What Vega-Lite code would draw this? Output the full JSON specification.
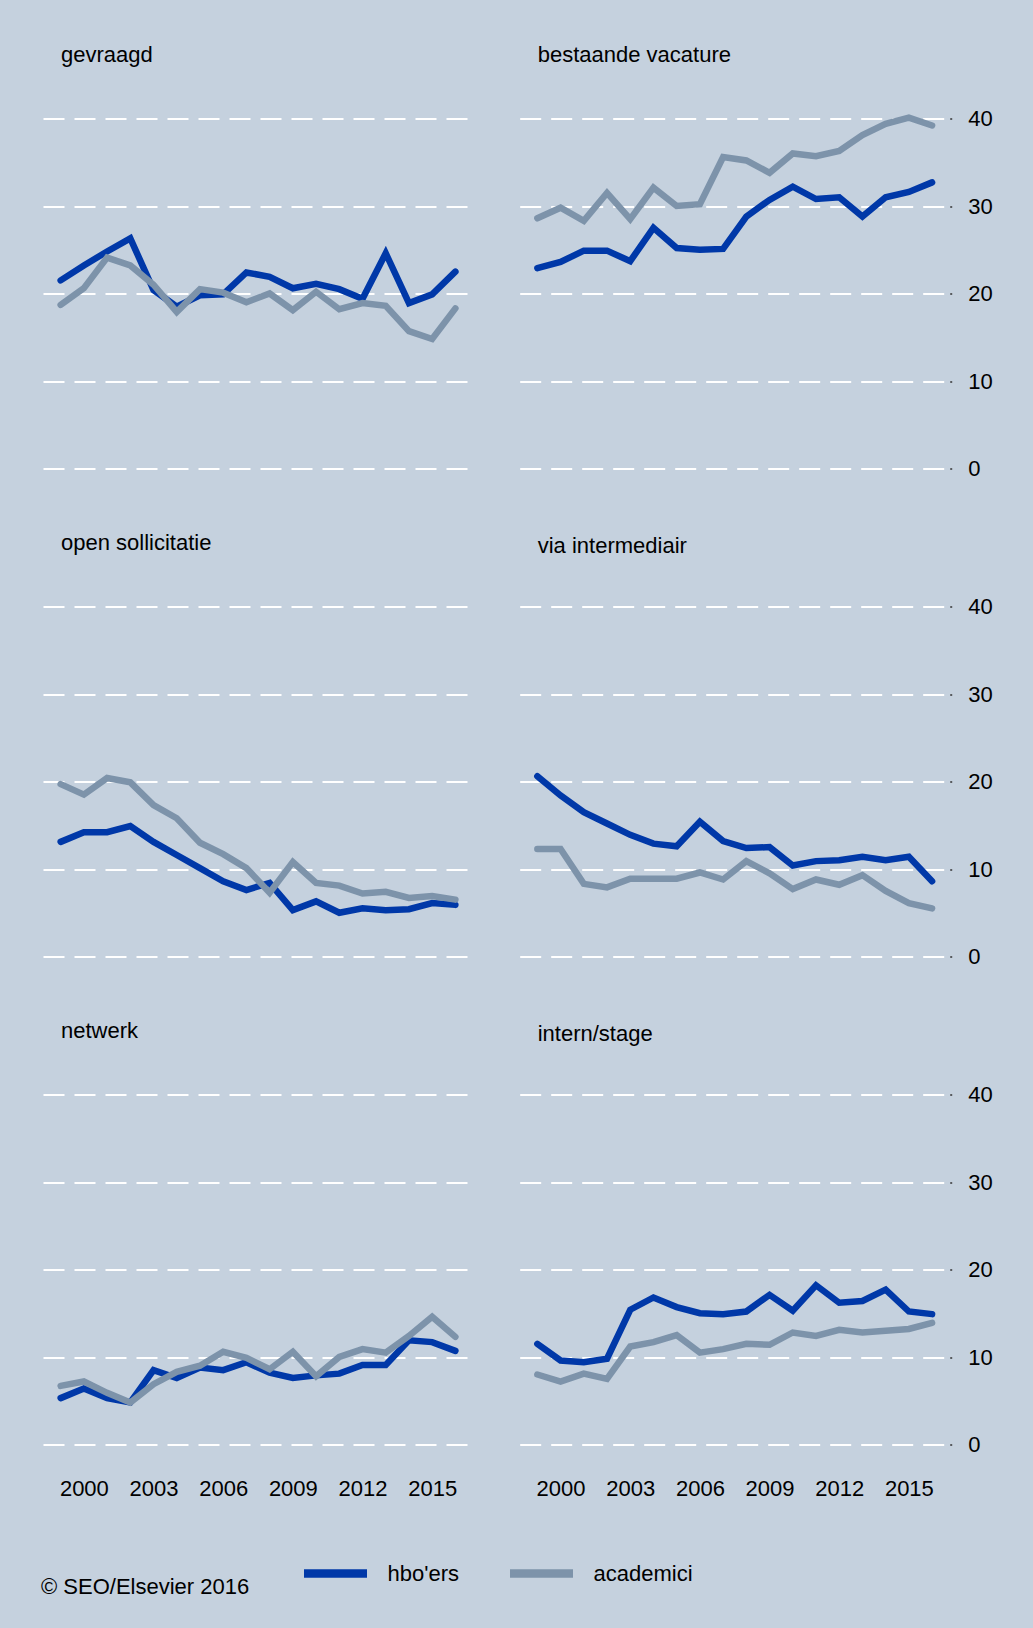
{
  "$schema": "https://vega.github.io/schema/vega-lite/v6.json",
  "background": "#C5D1DE",
  "padding": {"left": 41, "top": 43.5, "right": 40, "bottom": 40},
  "bounds": "flush",
  "columns": 2,
  "spacing": {"row": 138, "column": 52.7},
  "title": {"text": "© SEO/Elsevier 2016", "orient": "bottom", "anchor": "start", "dx": -2, "offset": -13.5, "fontSize": 22, "fontWeight": "normal", "color": "#000"},
  "data": {"values": [
    {"cat": "gevraagd", "year": 1999, "hbo": 21.5, "acad": 18.7},
    {"cat": "gevraagd", "year": 2000, "hbo": 23.2, "acad": 20.6},
    {"cat": "gevraagd", "year": 2001, "hbo": 24.8, "acad": 24.1},
    {"cat": "gevraagd", "year": 2002, "hbo": 26.3, "acad": 23.2},
    {"cat": "gevraagd", "year": 2003, "hbo": 20.4, "acad": 21.0},
    {"cat": "gevraagd", "year": 2004, "hbo": 18.5, "acad": 17.9},
    {"cat": "gevraagd", "year": 2005, "hbo": 19.8, "acad": 20.5},
    {"cat": "gevraagd", "year": 2006, "hbo": 19.9, "acad": 20.1},
    {"cat": "gevraagd", "year": 2007, "hbo": 22.4, "acad": 19.0},
    {"cat": "gevraagd", "year": 2008, "hbo": 21.9, "acad": 20.0},
    {"cat": "gevraagd", "year": 2009, "hbo": 20.6, "acad": 18.1},
    {"cat": "gevraagd", "year": 2010, "hbo": 21.1, "acad": 20.2},
    {"cat": "gevraagd", "year": 2011, "hbo": 20.5, "acad": 18.2},
    {"cat": "gevraagd", "year": 2012, "hbo": 19.4, "acad": 18.9},
    {"cat": "gevraagd", "year": 2013, "hbo": 24.6, "acad": 18.6},
    {"cat": "gevraagd", "year": 2014, "hbo": 18.9, "acad": 15.7},
    {"cat": "gevraagd", "year": 2015, "hbo": 19.9, "acad": 14.8},
    {"cat": "gevraagd", "year": 2016, "hbo": 22.5, "acad": 18.3},
    {"cat": "bestaande vacature", "year": 1999, "hbo": 22.9, "acad": 28.6},
    {"cat": "bestaande vacature", "year": 2000, "hbo": 23.6, "acad": 29.8},
    {"cat": "bestaande vacature", "year": 2001, "hbo": 24.9, "acad": 28.3},
    {"cat": "bestaande vacature", "year": 2002, "hbo": 24.9, "acad": 31.5},
    {"cat": "bestaande vacature", "year": 2003, "hbo": 23.7, "acad": 28.5},
    {"cat": "bestaande vacature", "year": 2004, "hbo": 27.5, "acad": 32.1},
    {"cat": "bestaande vacature", "year": 2005, "hbo": 25.2, "acad": 30.0},
    {"cat": "bestaande vacature", "year": 2006, "hbo": 25.0, "acad": 30.2},
    {"cat": "bestaande vacature", "year": 2007, "hbo": 25.1, "acad": 35.6},
    {"cat": "bestaande vacature", "year": 2008, "hbo": 28.8, "acad": 35.2},
    {"cat": "bestaande vacature", "year": 2009, "hbo": 30.7, "acad": 33.8},
    {"cat": "bestaande vacature", "year": 2010, "hbo": 32.2, "acad": 36.0},
    {"cat": "bestaande vacature", "year": 2011, "hbo": 30.8, "acad": 35.7},
    {"cat": "bestaande vacature", "year": 2012, "hbo": 31.0, "acad": 36.3},
    {"cat": "bestaande vacature", "year": 2013, "hbo": 28.8, "acad": 38.1},
    {"cat": "bestaande vacature", "year": 2014, "hbo": 31.0, "acad": 39.4},
    {"cat": "bestaande vacature", "year": 2015, "hbo": 31.6, "acad": 40.1},
    {"cat": "bestaande vacature", "year": 2016, "hbo": 32.7, "acad": 39.2},
    {"cat": "open sollicitatie", "year": 1999, "hbo": 13.1, "acad": 19.7},
    {"cat": "open sollicitatie", "year": 2000, "hbo": 14.2, "acad": 18.5},
    {"cat": "open sollicitatie", "year": 2001, "hbo": 14.2, "acad": 20.4},
    {"cat": "open sollicitatie", "year": 2002, "hbo": 14.9, "acad": 19.9},
    {"cat": "open sollicitatie", "year": 2003, "hbo": 13.1, "acad": 17.3},
    {"cat": "open sollicitatie", "year": 2004, "hbo": 11.6, "acad": 15.8},
    {"cat": "open sollicitatie", "year": 2005, "hbo": 10.1, "acad": 13.0},
    {"cat": "open sollicitatie", "year": 2006, "hbo": 8.6, "acad": 11.7},
    {"cat": "open sollicitatie", "year": 2007, "hbo": 7.6, "acad": 10.1},
    {"cat": "open sollicitatie", "year": 2008, "hbo": 8.4, "acad": 7.3},
    {"cat": "open sollicitatie", "year": 2009, "hbo": 5.3, "acad": 10.8},
    {"cat": "open sollicitatie", "year": 2010, "hbo": 6.3, "acad": 8.4},
    {"cat": "open sollicitatie", "year": 2011, "hbo": 5.0, "acad": 8.1},
    {"cat": "open sollicitatie", "year": 2012, "hbo": 5.5, "acad": 7.2},
    {"cat": "open sollicitatie", "year": 2013, "hbo": 5.3, "acad": 7.4},
    {"cat": "open sollicitatie", "year": 2014, "hbo": 5.4, "acad": 6.7},
    {"cat": "open sollicitatie", "year": 2015, "hbo": 6.1, "acad": 6.9},
    {"cat": "open sollicitatie", "year": 2016, "hbo": 5.9, "acad": 6.5},
    {"cat": "via intermediair", "year": 1999, "hbo": 20.6, "acad": 12.3},
    {"cat": "via intermediair", "year": 2000, "hbo": 18.4, "acad": 12.3},
    {"cat": "via intermediair", "year": 2001, "hbo": 16.5, "acad": 8.3},
    {"cat": "via intermediair", "year": 2002, "hbo": 15.2, "acad": 7.9},
    {"cat": "via intermediair", "year": 2003, "hbo": 13.9, "acad": 8.9},
    {"cat": "via intermediair", "year": 2004, "hbo": 12.9, "acad": 8.9},
    {"cat": "via intermediair", "year": 2005, "hbo": 12.6, "acad": 8.9},
    {"cat": "via intermediair", "year": 2006, "hbo": 15.4, "acad": 9.6},
    {"cat": "via intermediair", "year": 2007, "hbo": 13.2, "acad": 8.8},
    {"cat": "via intermediair", "year": 2008, "hbo": 12.4, "acad": 10.9},
    {"cat": "via intermediair", "year": 2009, "hbo": 12.5, "acad": 9.5},
    {"cat": "via intermediair", "year": 2010, "hbo": 10.4, "acad": 7.7},
    {"cat": "via intermediair", "year": 2011, "hbo": 10.9, "acad": 8.8},
    {"cat": "via intermediair", "year": 2012, "hbo": 11.0, "acad": 8.2},
    {"cat": "via intermediair", "year": 2013, "hbo": 11.4, "acad": 9.3},
    {"cat": "via intermediair", "year": 2014, "hbo": 11.0, "acad": 7.5},
    {"cat": "via intermediair", "year": 2015, "hbo": 11.4, "acad": 6.1},
    {"cat": "via intermediair", "year": 2016, "hbo": 8.6, "acad": 5.5},
    {"cat": "netwerk", "year": 1999, "hbo": 5.3, "acad": 6.7},
    {"cat": "netwerk", "year": 2000, "hbo": 6.4, "acad": 7.2},
    {"cat": "netwerk", "year": 2001, "hbo": 5.3, "acad": 5.9},
    {"cat": "netwerk", "year": 2002, "hbo": 4.8, "acad": 4.8},
    {"cat": "netwerk", "year": 2003, "hbo": 8.5, "acad": 6.9},
    {"cat": "netwerk", "year": 2004, "hbo": 7.6, "acad": 8.3},
    {"cat": "netwerk", "year": 2005, "hbo": 8.8, "acad": 9.0},
    {"cat": "netwerk", "year": 2006, "hbo": 8.5, "acad": 10.6},
    {"cat": "netwerk", "year": 2007, "hbo": 9.4, "acad": 9.9},
    {"cat": "netwerk", "year": 2008, "hbo": 8.2, "acad": 8.6},
    {"cat": "netwerk", "year": 2009, "hbo": 7.6, "acad": 10.6},
    {"cat": "netwerk", "year": 2010, "hbo": 7.9, "acad": 7.8},
    {"cat": "netwerk", "year": 2011, "hbo": 8.1, "acad": 10.0},
    {"cat": "netwerk", "year": 2012, "hbo": 9.1, "acad": 10.9},
    {"cat": "netwerk", "year": 2013, "hbo": 9.1, "acad": 10.5},
    {"cat": "netwerk", "year": 2014, "hbo": 11.9, "acad": 12.4},
    {"cat": "netwerk", "year": 2015, "hbo": 11.7, "acad": 14.6},
    {"cat": "netwerk", "year": 2016, "hbo": 10.7, "acad": 12.3},
    {"cat": "intern/stage", "year": 1999, "hbo": 11.5, "acad": 8.0},
    {"cat": "intern/stage", "year": 2000, "hbo": 9.6, "acad": 7.2},
    {"cat": "intern/stage", "year": 2001, "hbo": 9.4, "acad": 8.1},
    {"cat": "intern/stage", "year": 2002, "hbo": 9.8, "acad": 7.5},
    {"cat": "intern/stage", "year": 2003, "hbo": 15.4, "acad": 11.2},
    {"cat": "intern/stage", "year": 2004, "hbo": 16.8, "acad": 11.7},
    {"cat": "intern/stage", "year": 2005, "hbo": 15.7, "acad": 12.5},
    {"cat": "intern/stage", "year": 2006, "hbo": 15.0, "acad": 10.5},
    {"cat": "intern/stage", "year": 2007, "hbo": 14.9, "acad": 10.9},
    {"cat": "intern/stage", "year": 2008, "hbo": 15.2, "acad": 11.5},
    {"cat": "intern/stage", "year": 2009, "hbo": 17.1, "acad": 11.4},
    {"cat": "intern/stage", "year": 2010, "hbo": 15.3, "acad": 12.8},
    {"cat": "intern/stage", "year": 2011, "hbo": 18.2, "acad": 12.4},
    {"cat": "intern/stage", "year": 2012, "hbo": 16.2, "acad": 13.1},
    {"cat": "intern/stage", "year": 2013, "hbo": 16.4, "acad": 12.8},
    {"cat": "intern/stage", "year": 2014, "hbo": 17.7, "acad": 13.0},
    {"cat": "intern/stage", "year": 2015, "hbo": 15.2, "acad": 13.2},
    {"cat": "intern/stage", "year": 2016, "hbo": 14.9, "acad": 13.9}
  ]},
  "transform": [{"fold": ["hbo", "acad"], "as": ["group", "value"]}],
  "concat": [
    {
      "width": 424, "height": 350,
      "title": {"text": "gevraagd"},
      "transform": [{"filter": {"field": "cat", "equal": "gevraagd"}}],
      "mark": {"type": "line", "strokeWidth": 6.5, "strokeCap": "round"},
      "encoding": {
        "x": {"field": "year", "type": "quantitative", "scale": {"domain": [1998.24, 2016.5], "nice": false, "zero": false}, "axis": null},
        "y": {"field": "value", "type": "quantitative", "scale": {"domain": [0, 40], "nice": false}, "axis": {"grid": true, "labels": false, "ticks": false, "domain": false, "values": [0, 10, 20, 30, 40], "title": null}},
        "color": {"field": "group", "type": "nominal", "scale": {"domain": ["hbo", "acad"], "range": ["#0038A8", "#7D93AA"]}, "legend": {"title": null, "orient": "none", "legendX": 256.5, "legendY": 1419, "direction": "horizontal", "labelExpr": "datum.label == 'hbo' ? \"hbo'ers\" : 'academici'"}}
      }
    },
    {
      "width": 424, "height": 350,
      "title": {"text": "bestaande vacature", "offset": 38},
      "transform": [{"filter": {"field": "cat", "equal": "bestaande vacature"}}],
      "mark": {"type": "line", "strokeWidth": 6.5, "strokeCap": "round"},
      "encoding": {
        "x": {"field": "year", "type": "quantitative", "scale": {"domain": [1998.24, 2016.5], "nice": false, "zero": false}, "axis": null},
        "y": {"field": "value", "type": "quantitative", "scale": {"domain": [0, 40], "nice": false}, "axis": {"orient": "right", "grid": true, "labels": true, "ticks": true, "tickSize": 2, "tickWidth": 1.5, "tickColor": "#333", "offset": 6, "labelPadding": 16, "domain": false, "values": [0, 10, 20, 30, 40], "title": null}},
        "color": {"field": "group", "type": "nominal", "scale": {"domain": ["hbo", "acad"], "range": ["#0038A8", "#7D93AA"]}, "legend": {"title": null, "orient": "none", "legendX": 256.5, "legendY": 1419, "direction": "horizontal", "labelExpr": "datum.label == 'hbo' ? \"hbo'ers\" : 'academici'"}}
      }
    },
    {
      "width": 424, "height": 350,
      "title": {"text": "open sollicitatie"},
      "transform": [{"filter": {"field": "cat", "equal": "open sollicitatie"}}],
      "mark": {"type": "line", "strokeWidth": 6.5, "strokeCap": "round"},
      "encoding": {
        "x": {"field": "year", "type": "quantitative", "scale": {"domain": [1998.24, 2016.5], "nice": false, "zero": false}, "axis": null},
        "y": {"field": "value", "type": "quantitative", "scale": {"domain": [0, 40], "nice": false}, "axis": {"grid": true, "labels": false, "ticks": false, "domain": false, "values": [0, 10, 20, 30, 40], "title": null}},
        "color": {"field": "group", "type": "nominal", "scale": {"domain": ["hbo", "acad"], "range": ["#0038A8", "#7D93AA"]}, "legend": {"title": null, "orient": "none", "legendX": 256.5, "legendY": 1419, "direction": "horizontal", "labelExpr": "datum.label == 'hbo' ? \"hbo'ers\" : 'academici'"}}
      }
    },
    {
      "width": 424, "height": 350,
      "title": {"text": "via intermediair", "offset": 38},
      "transform": [{"filter": {"field": "cat", "equal": "via intermediair"}}],
      "mark": {"type": "line", "strokeWidth": 6.5, "strokeCap": "round"},
      "encoding": {
        "x": {"field": "year", "type": "quantitative", "scale": {"domain": [1998.24, 2016.5], "nice": false, "zero": false}, "axis": null},
        "y": {"field": "value", "type": "quantitative", "scale": {"domain": [0, 40], "nice": false}, "axis": {"orient": "right", "grid": true, "labels": true, "ticks": true, "tickSize": 2, "tickWidth": 1.5, "tickColor": "#333", "offset": 6, "labelPadding": 16, "domain": false, "values": [0, 10, 20, 30, 40], "title": null}},
        "color": {"field": "group", "type": "nominal", "scale": {"domain": ["hbo", "acad"], "range": ["#0038A8", "#7D93AA"]}, "legend": {"title": null, "orient": "none", "legendX": 256.5, "legendY": 1419, "direction": "horizontal", "labelExpr": "datum.label == 'hbo' ? \"hbo'ers\" : 'academici'"}}
      }
    },
    {
      "width": 424, "height": 350,
      "title": {"text": "netwerk"},
      "transform": [{"filter": {"field": "cat", "equal": "netwerk"}}],
      "mark": {"type": "line", "strokeWidth": 6.5, "strokeCap": "round"},
      "encoding": {
        "x": {"field": "year", "type": "quantitative", "scale": {"domain": [1998.24, 2016.5], "nice": false, "zero": false}, "axis": {"values": [2000, 2003, 2006, 2009, 2012, 2015], "format": "d", "labelPadding": 33.5, "domain": false, "ticks": false, "grid": false, "title": null, "labelFlush": false}},
        "y": {"field": "value", "type": "quantitative", "scale": {"domain": [0, 40], "nice": false}, "axis": {"grid": true, "labels": false, "ticks": false, "domain": false, "values": [0, 10, 20, 30, 40], "title": null}},
        "color": {"field": "group", "type": "nominal", "scale": {"domain": ["hbo", "acad"], "range": ["#0038A8", "#7D93AA"]}, "legend": {"title": null, "orient": "none", "legendX": 256.5, "legendY": 1419, "direction": "horizontal", "labelExpr": "datum.label == 'hbo' ? \"hbo'ers\" : 'academici'"}}
      }
    },
    {
      "width": 424, "height": 350,
      "title": {"text": "intern/stage", "offset": 38},
      "transform": [{"filter": {"field": "cat", "equal": "intern/stage"}}],
      "mark": {"type": "line", "strokeWidth": 6.5, "strokeCap": "round"},
      "encoding": {
        "x": {"field": "year", "type": "quantitative", "scale": {"domain": [1998.24, 2016.5], "nice": false, "zero": false}, "axis": {"values": [2000, 2003, 2006, 2009, 2012, 2015], "format": "d", "labelPadding": 33.5, "domain": false, "ticks": false, "grid": false, "title": null, "labelFlush": false}},
        "y": {"field": "value", "type": "quantitative", "scale": {"domain": [0, 40], "nice": false}, "axis": {"orient": "right", "grid": true, "labels": true, "ticks": true, "tickSize": 2, "tickWidth": 1.5, "tickColor": "#333", "offset": 6, "labelPadding": 16, "domain": false, "values": [0, 10, 20, 30, 40], "title": null}},
        "color": {"field": "group", "type": "nominal", "scale": {"domain": ["hbo", "acad"], "range": ["#0038A8", "#7D93AA"]}, "legend": {"title": null, "orient": "none", "legendX": 256.5, "legendY": 1419, "direction": "horizontal", "labelExpr": "datum.label == 'hbo' ? \"hbo'ers\" : 'academici'"}}
      }
    }
  ],
  "config": {
    "font": "Liberation Sans",
    "view": {"stroke": null},
    "title": {"anchor": "start", "fontSize": 22, "fontWeight": "normal", "color": "#000", "offset": 51.5, "dx": 18},
    "axis": {"labelFontSize": 22, "labelColor": "#000", "labelFont": "Liberation Sans", "gridColor": "#FFFFFF", "gridWidth": 2, "gridDash": [21, 10], "gridOpacity": 1},
    "legend": {"symbolType": "stroke", "symbolSize": 3969, "symbolStrokeWidth": 8.5, "labelFontSize": 22, "labelColor": "#000", "labelOffset": 16, "columnPadding": 33, "labelLimit": 0}
  }
}
